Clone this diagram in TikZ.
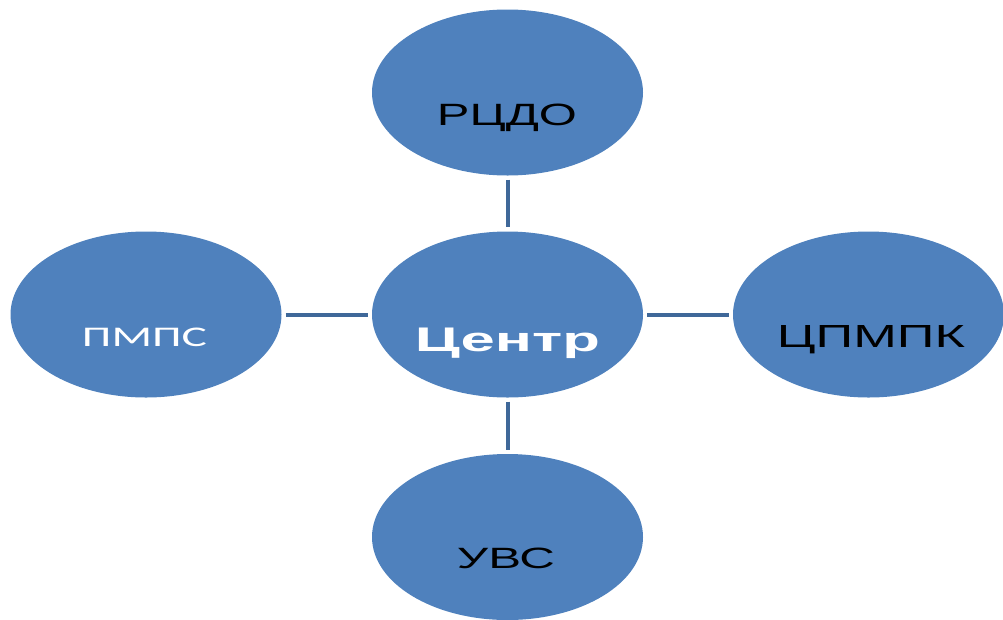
\documentclass[tikz,border=0pt]{standalone}
\usepackage{fontspec}
\usepackage{graphicx}
\setmainfont{Liberation Sans}
\newfontfamily\calib{Carlito}
\usetikzlibrary{shapes.geometric}
\definecolor{bubble}{HTML}{4F81BD}
\definecolor{linkc}{HTML}{3F6899}
\newcommand{\fitbox}[3]{\resizebox{#1pt}{#2pt}{#3}}
\tikzset{
  bubblenode/.style={ellipse, fill=bubble, minimum width=271pt, minimum height=166pt, inner sep=0pt},
  lbl/.style={anchor=base, inner sep=0pt},
  link/.style={draw=linkc, line width=4pt, shorten <=4pt, shorten >=4pt}
}
\begin{document}
\begin{tikzpicture}[x=1pt,y=-1pt]
\useasboundingbox (0,0) rectangle (1003,619);
\node[bubblenode] (c) at (507.5,314.5) {};
\node[bubblenode] (t) at (507.5,92.5) {};
\node[bubblenode] (l) at (146,314.5) {};
\node[bubblenode] (r) at (868.5,314.5) {};
\node[bubblenode] (b) at (507.5,537) {};
\draw[link] (t) -- (c);
\draw[link] (c) -- (b);
\draw[link] (l) -- (c);
\draw[link] (c) -- (r);
\node[lbl, text=white] (tc) at (507.5,351) {\fitbox{185}{23.5}{\bfseries Центр}};
\node[lbl, text=black] (tt) at (507,125) {\fitbox{140}{21.5}{РЦДО}};
\node[lbl, text=white] (tl) at (144.5,346) {\fitbox{125}{18.5}{\calib ПМПС}};
\node[lbl, text=black] (tr) at (871,347) {\fitbox{188}{22}{ЦПМПК}};
\node[lbl, text=black] (tb) at (506,568) {\fitbox{98}{20.5}{УВС}};
\end{tikzpicture}
\end{document}
